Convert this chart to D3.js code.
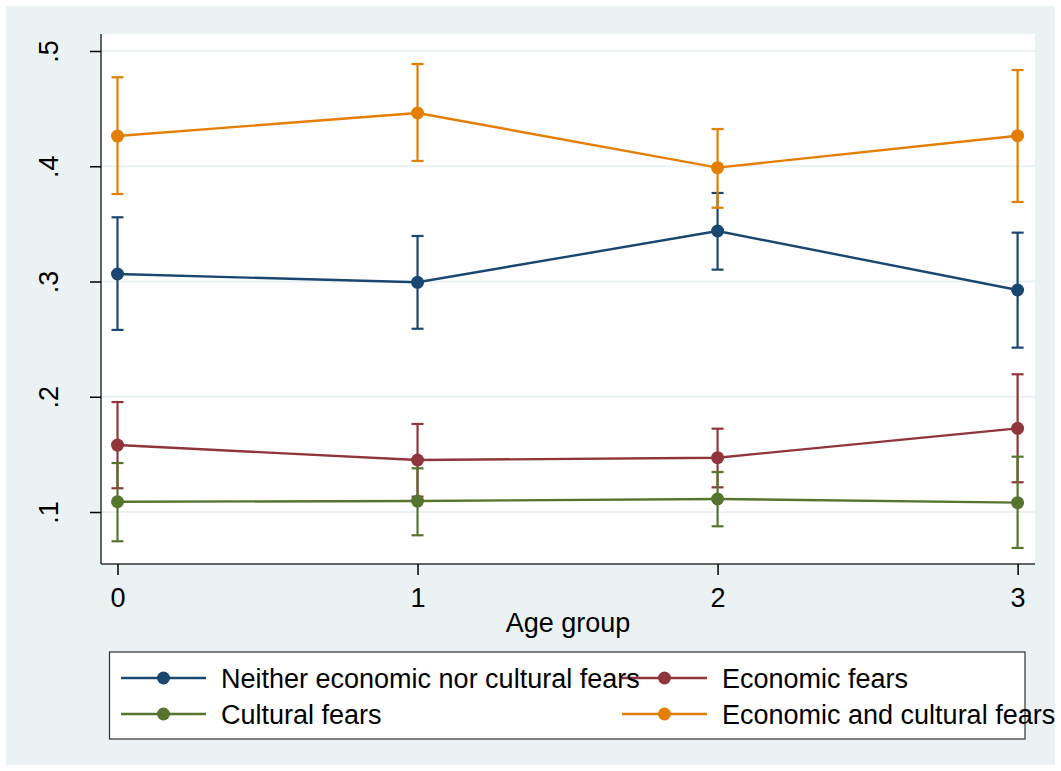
<!DOCTYPE html>
<html><head><meta charset="utf-8">
<script src="https://cdn.jsdelivr.net/npm/d3@7"></script>
<style>body{margin:0;background:#fff}svg{display:block;font-family:"Liberation Sans",Arial,sans-serif}</style>
</head><body><svg id="c" width="1061" height="771"></svg>
<script>
const ageGroups = [0, 1, 2, 3];
const seriesNames = ["Neither economic nor cultural fears", "Economic fears", "Cultural fears", "Economic and cultural fears"];
const seriesColors = ["#1a476f", "#90353b", "#55752f", "#e37e00"];
const neitherMean = [0.3065, 0.2993, 0.3438, 0.2926];
const neitherLo   = [0.258, 0.259, 0.3103, 0.2426];
const neitherHi   = [0.3557, 0.3395, 0.3768, 0.3424];
const econMean = [0.1581, 0.1451, 0.1471, 0.1726];
const econLo   = [0.1206, 0.1133, 0.1214, 0.1258];
const econHi   = [0.1954, 0.1764, 0.1723, 0.2195];
const cultMean = [0.1089, 0.1095, 0.1113, 0.1081];
const cultLo   = [0.0746, 0.0798, 0.0876, 0.0688];
const cultHi   = [0.1425, 0.1379, 0.1347, 0.148];
const bothMean = [0.4262, 0.4462, 0.3988, 0.4265];
const bothLo   = [0.3759, 0.4046, 0.364, 0.369];
const bothHi   = [0.4772, 0.4887, 0.4323, 0.4835];
const yTicks = [0.1, 0.2, 0.3, 0.4, 0.5];
const yTickLabels = [".1", ".2", ".3", ".4", ".5"];
const xTickLabels = ["0", "1", "2", "3"];
const xTitle = "Age group";

const series = [
  {name: seriesNames[0], color: seriesColors[0], mean: neitherMean, lo: neitherLo, hi: neitherHi},
  {name: seriesNames[1], color: seriesColors[1], mean: econMean, lo: econLo, hi: econHi},
  {name: seriesNames[2], color: seriesColors[2], mean: cultMean, lo: cultLo, hi: cultHi},
  {name: seriesNames[3], color: seriesColors[3], mean: bothMean, lo: bothLo, hi: bothHi}
];

const svg = d3.select("#c");
const FS = 27;
const L = 101, R = 1035, T = 34, B = 564;
const x = d3.scaleLinear().domain([-0.055, 3.058]).range([L, R]);
const y = d3.scaleLinear().domain([0.05488, 0.51475]).range([B, T]);

svg.append("rect").attr("x", 6).attr("y", 6).attr("width", 1049).attr("height", 759).attr("fill", "#eaf2f3");
svg.append("rect").attr("x", L).attr("y", T).attr("width", R - L).attr("height", B - T).attr("fill", "#fff");

// gridlines
svg.append("g").selectAll("line").data(yTicks).join("line")
  .attr("x1", L).attr("x2", R).attr("y1", d => y(d)).attr("y2", d => y(d))
  .attr("stroke", "#eaf2f3").attr("stroke-width", 2);

// y axis
const yAxis = d3.axisLeft(y).tickValues(yTicks).tickSize(11).tickFormat((d, i) => yTickLabels[i]);
const gy = svg.append("g").attr("transform", `translate(${L},0)`).call(yAxis);
gy.select(".domain").attr("d", `M0,${T}V${B}`).attr("stroke", "#333").attr("stroke-width", 1.5);
gy.selectAll(".tick line").attr("stroke", "#000").attr("stroke-width", 1.5);
gy.selectAll(".tick text").attr("font-size", FS).attr("fill", "#000")
  .attr("text-anchor", "middle").attr("x", 0).attr("dy", 0)
  .attr("transform", "translate(-43,0) rotate(-90)");

// x axis
const xAxis = d3.axisBottom(x).tickValues(ageGroups).tickSize(11).tickFormat((d, i) => xTickLabels[i]);
const gx = svg.append("g").attr("transform", `translate(0,${B})`).call(xAxis);
gx.select(".domain").attr("d", `M${L},0H${R}`).attr("stroke", "#333").attr("stroke-width", 1.5);
gx.selectAll(".tick line").attr("stroke", "#000").attr("stroke-width", 1.5);
gx.selectAll(".tick text").attr("font-size", FS).attr("fill", "#000").attr("y", 43).attr("dy", 0);
svg.append("text").attr("x", (L + R) / 2).attr("y", 632).attr("text-anchor", "middle")
  .attr("font-size", FS).attr("fill", "#000").text(xTitle);

// series
const line = d3.line().x((d, i) => x(ageGroups[i])).y(d => y(d));
series.forEach(s => {
  const g = svg.append("g");
  ageGroups.forEach((a, i) => {
    const cx = x(a);
    g.append("line").attr("x1", cx).attr("x2", cx).attr("y1", y(s.lo[i])).attr("y2", y(s.hi[i]))
      .attr("stroke", s.color).attr("stroke-width", 2.2);
    [s.lo[i], s.hi[i]].forEach(v => g.append("line").attr("x1", cx - 6).attr("x2", cx + 6)
      .attr("y1", y(v)).attr("y2", y(v)).attr("stroke", s.color).attr("stroke-width", 2.2));
  });
  g.append("path").attr("d", line(s.mean)).attr("fill", "none").attr("stroke", s.color).attr("stroke-width", 2.4);
  g.selectAll("circle").data(s.mean).join("circle")
    .attr("cx", (d, i) => x(ageGroups[i])).attr("cy", d => y(d)).attr("r", 6.5).attr("fill", s.color);
});

// legend
svg.append("rect").attr("x", 109.5).attr("y", 652).attr("width", 915.5).attr("height", 87)
  .attr("fill", "#fff").attr("stroke", "#333").attr("stroke-width", 1.2);
const legPos = [
  {lx1: 121, lx2: 206, tx: 221, cy: 678},
  {lx1: 622, lx2: 707, tx: 722, cy: 678},
  {lx1: 121, lx2: 206, tx: 221, cy: 714},
  {lx1: 622, lx2: 707, tx: 722, cy: 714}
];
series.forEach((s, i) => {
  const p = legPos[i];
  const g = svg.append("g");
  g.append("line").attr("x1", p.lx1).attr("x2", p.lx2).attr("y1", p.cy).attr("y2", p.cy)
    .attr("stroke", s.color).attr("stroke-width", 2.4);
  g.append("circle").attr("cx", (p.lx1 + p.lx2) / 2).attr("cy", p.cy).attr("r", 6.5).attr("fill", s.color);
});
series.forEach((s, i) => {
  const p = legPos[i];
  svg.append("text").attr("x", p.tx).attr("y", p.cy + 10).attr("font-size", FS).attr("fill", "#000").text(s.name);
});
</script></body></html>
